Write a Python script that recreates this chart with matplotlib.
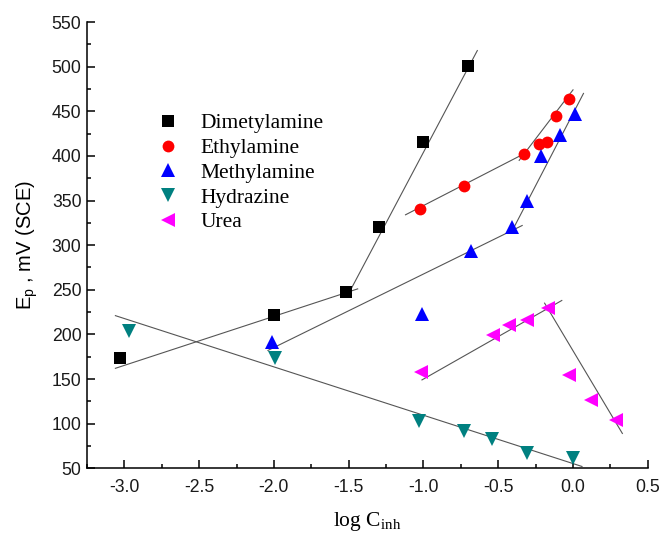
import matplotlib as mpl

mpl.use("Agg")
import matplotlib.pyplot as plt
from matplotlib.ticker import MultipleLocator, FormatStrFormatter

# measured points (log C_inh, Ep in mV vs SCE)
dim_x = [-3.03, -2.0, -1.52, -1.3, -1.0, -0.7]
dim_y = [174, 222, 248, 320, 416, 501]

eth_x = [-1.02, -0.73, -0.33, -0.225, -0.175, -0.115, -0.027]
eth_y = [341, 366, 402, 413, 416, 445, 464]

met_x = [-2.01, -1.01, -0.68, -0.41, -0.305, -0.215, -0.085, 0.01]
met_y = [191, 223, 293, 320, 349, 400, 423, 447]

hyd_x = [-2.97, -1.99, -1.03, -0.726, -0.54, -0.31, 0.0]
hyd_y = [204, 173, 103, 92, 83, 67, 61]

urea_x = [-1.015, -0.536, -0.425, -0.31, -0.165, -0.027, 0.12, 0.285]
urea_y = [158, 199, 210, 216, 230, 155, 127, 104]

# straight-line fits drawn on the chart: (x0, x1), (y0, y1)
fits = [
    ((-3.06, -1.44), (162, 251)),   # dimetylamine, low slope
    ((-1.49, -0.64), (249, 518)),   # dimetylamine, high slope
    ((-1.12, -0.32), (334, 403)),   # ethylamine, low slope
    ((-0.36, 0.00), (395, 474)),    # ethylamine, high slope
    ((-2.04, -0.34), (182, 322)),   # methylamine, low slope
    ((-0.41, 0.07), (315, 470)),    # methylamine, high slope
    ((-3.06, 0.06), (221, 52)),     # hydrazine
    ((-1.01, -0.075), (149, 238)),  # urea, rising
    ((-0.19, 0.33), (235, 89)),     # urea, falling
]

series = [
    ("Dimetylamine", dim_x, dim_y, "s", "black", 8.0),
    ("Ethylamine", eth_x, eth_y, "o", "#FF0000", 8.5),
    ("Methylamine", met_x, met_y, "^", "#0000FF", 9.5),
    ("Hydrazine", hyd_x, hyd_y, "v", "#008080", 9.5),
    ("Urea", urea_x, urea_y, "<", "#FF00FF", 9.5),
]

mpl.rcParams.update(
    {
        "axes.unicode_minus": False,
        "axes.linewidth": 1.1,
        "xtick.direction": "in",
        "ytick.direction": "in",
        "xtick.major.size": 5.5,
        "ytick.major.size": 5.5,
        "xtick.minor.size": 3.2,
        "ytick.minor.size": 3.2,
        "xtick.major.width": 1.1,
        "ytick.major.width": 1.1,
        "xtick.minor.width": 1.1,
        "ytick.minor.width": 1.1,
    }
)

SANS = "Liberation Sans"
SERIF = "Liberation Serif"

fig = plt.figure(figsize=(6.59, 5.37), dpi=100)
ax = fig.add_axes([0.132, 0.128, 0.851, 0.831])

for (x0, x1), (y0, y1) in fits:
    ax.plot([x0, x1], [y0, y1], color="#555555", lw=0.8, zorder=1)

for name, xs, ys, mk, col, ms in series:
    ax.plot(xs, ys, ls="none", marker=mk, color=col, markersize=ms,
            markeredgewidth=0, label=name, zorder=3)

ax.set_xlim(-3.25, 0.5)
ax.set_ylim(50, 550)
ax.xaxis.set_major_locator(MultipleLocator(0.5))
ax.xaxis.set_minor_locator(MultipleLocator(0.25))
ax.yaxis.set_major_locator(MultipleLocator(50))
ax.yaxis.set_minor_locator(MultipleLocator(25))
ax.xaxis.set_major_formatter(FormatStrFormatter("%.1f"))
ax.yaxis.set_major_formatter(FormatStrFormatter("%d"))
ax.spines["top"].set_visible(False)
ax.spines["right"].set_visible(False)

for lab in ax.get_xticklabels() + ax.get_yticklabels():
    lab.set_fontfamily(SANS)
    lab.set_fontsize(12.7)
    lab.set_color("#1a1a1a")
ax.tick_params(axis="x", pad=8)
ax.tick_params(axis="y", pad=4)

ax.set_xlabel(r"log C$_{\mathregular{inh}}$", fontfamily=SERIF, fontsize=15.5, labelpad=10)
ax.set_ylabel(r"E$_{\mathregular{p}}$ , mV (SCE)", fontfamily=SANS, fontsize=14.5, labelpad=8)

leg = ax.legend(
    loc="upper left",
    bbox_to_anchor=(0.11, 0.815),
    frameon=False,
    prop={"family": SERIF, "size": 15.5},
    handlelength=1.0,
    handletextpad=1.0,
    labelspacing=0.22,
    borderaxespad=0,
)

fig.savefig("out.png", dpi=100)
